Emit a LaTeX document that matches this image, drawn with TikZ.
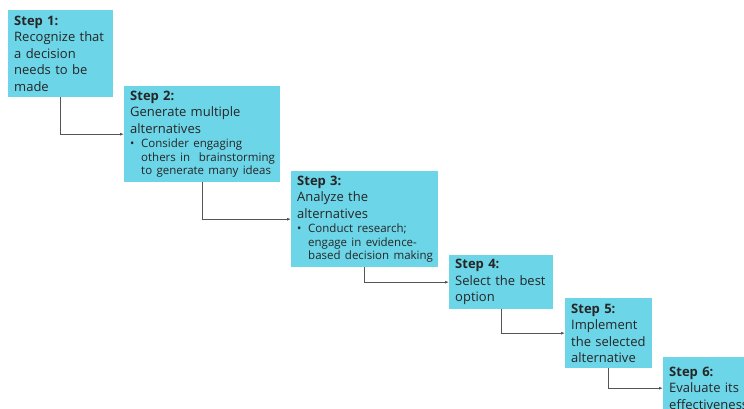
\documentclass[tikz,border=0pt]{standalone}
\usepackage{fontspec}
\usetikzlibrary{arrows.meta}
\setmainfont{Open Sans}
\definecolor{stepcyan}{HTML}{6CD5E7}
\definecolor{steptext}{HTML}{262626}
\definecolor{arrowgray}{HTML}{555555}
\newcommand{\stepitem}[2]{\par\vspace{1pt}{\fontsize{11.5}{13.5}\selectfont\makebox[11pt][l]{•}\parbox[t]{#1}{\raggedright #2}\par}}
\begin{document}
\begin{tikzpicture}[x=1pt,y=-1pt,
	stepbox/.style={fill=stepcyan,text=steptext,anchor=north west,inner xsep=6pt,inner ysep=2pt,align=left,
		font=\fontsize{13}{16.5}\selectfont},
	flow/.style={draw=arrowgray,line width=.8pt,-{Latex[length=4pt,width=3pt]}}]
	\useasboundingbox (0,0) rectangle (744,409);
	\clip (0,0) rectangle (744,409);
	\node[stepbox,minimum width=105pt,minimum height=87pt,text width=93pt] (s1) at (8,10)
		{\textbf{Step 1:}\\Recognize that\\a decision\\needs to be\\made};
	\node[stepbox,minimum width=156pt,minimum height=96pt,text width=144pt] (s2) at (124,86)
		{\textbf{Step 2:}\\Generate multiple\\alternatives\stepitem{145pt}{Consider engaging\\others in\ \ brainstorming\\to generate many ideas}};
	\node[stepbox,minimum width=147pt,minimum height=96pt,text width=135pt] (s3) at (291,171)
		{\textbf{Step 3:}\\Analyze the\\alternatives\stepitem{140pt}{Conduct research;\\engage in evidence-\\based decision making}};
	\node[stepbox,minimum width=104pt,minimum height=54pt,text width=92pt] (s4) at (449,255)
		{\textbf{Step 4:}\\Select the best\\option};
	\node[stepbox,minimum width=87pt,minimum height=70pt,text width=75pt] (s5) at (565,298)
		{\textbf{Step 5:}\\Implement\\the selected\\alternative};
	\node[stepbox,minimum width=95pt,minimum height=62pt,text width=95pt] (s6) at (663,357)
		{\textbf{Step 6:}\\Evaluate its\\effectiveness};
	\draw[flow] (s1.south) |- (s2.west);
	\draw[flow] (s2.south) |- (s3.west);
	\draw[flow] (s3.south) |- (s4.west);
	\draw[flow] (s4.south) |- (s5.west);
	\draw[flow] (s5.south) |- (s6.west);
\end{tikzpicture}
\end{document}
